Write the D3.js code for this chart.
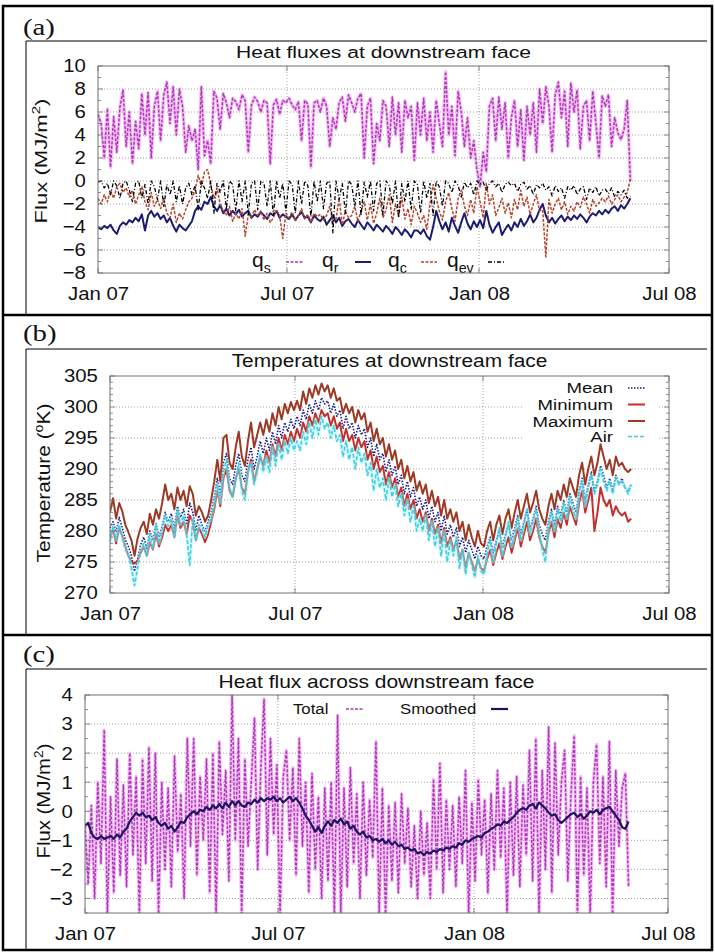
<!DOCTYPE html>
<html>
<head>
<meta charset="utf-8">
<script src="https://cdn.jsdelivr.net/npm/d3@7"></script>
<style>
  body { margin: 0; background: #fff; }
  svg { display: block; font-family: "Liberation Sans", Arial, Helvetica, sans-serif; }
  text { fill: #111; }
</style>
</head>
<body>
<script>

// Daily record sampled every 3 days, starting 1 Jan 2007
const startDate = new Date(2007, 0, 1);
const dayStep = 3;

const xTickDates = [new Date(2007, 0, 1), new Date(2007, 6, 1), new Date(2008, 0, 1), new Date(2008, 6, 1)];
const xTickLabels = ["Jan 07", "Jul 07", "Jan 08", "Jul 08"];

// (a) heat fluxes, MJ/m2
const qs = [5.8,5.0,2.0,6.3,1.2,5.6,2.5,6.4,7.9,3.0, 6.0,1.5,5.2,2.8,7.6,4.0,7.7,2.0,6.5,7.8,
  3.5,7.5,8.6,5.0,8.2,4.0,8.0,6.5,2.5,4.8, 3.5,4.5,1.0,8.2,2.2,3.5,1.5,7.8,7.2,4.5,
  7.6,6.8,5.5,7.2,6.9,6.2,7.5,7.0,2.5,6.6, 7.3,6.9,6.0,7.0,6.8,1.5,6.6,7.1,5.8,7.0,
  6.8,7.2,6.6,6.2,6.9,3.5,7.0,6.7,1.2,6.8, 7.0,6.0,7.2,6.5,3.0,5.5,4.5,6.8,7.3,5.2,
  7.5,6.8,6.0,7.2,7.6,2.0,6.5,7.2,1.5,5.0, 3.5,7.0,6.5,3.0,7.3,4.0,6.8,2.5,7.0,5.5,
  6.5,1.8,6.8,4.0,7.2,3.5,6.0,2.5,7.0,5.0, 3.0,9.5,4.0,6.5,2.2,7.8,6.0,3.0,5.5,2.0,
  3.5,1.0,-0.5,2.5,0.8,6.5,7.2,3.5,7.3,4.5, 6.8,2.0,5.5,7.0,3.0,6.2,1.8,6.5,4.0,6.8,
  2.5,8.0,5.0,8.2,6.5,2.5,7.5,8.6,5.5,7.8, 3.0,8.5,6.0,7.9,2.8,6.5,7.0,3.5,7.8,5.0,
  2.0,7.4,6.5,7.5,3.0,5.5,4.2,3.6,4.5,7.0,0.0];

const qr = [-4.0,-4.2,-3.9,-4.1,-3.8,-4.3,-4.6,-3.9,-3.6,-3.8,-3.4,
  -3.6,-3.2,-3.5,-2.9,-4.3,-3.0,-2.6,-3.1,-2.8,
  -3.3,-3.0,-3.6,-3.2,-3.9,-4.4,-3.8,-4.1,-4.3,-3.9,
  -3.5,-2.6,-2.2,-2.5,-1.8,-2.0,-1.4,-2.2,-2.6,-2.1,
  -2.8,-2.4,-3.0,-2.6,-2.9,-2.5,-3.1,-2.8,-2.6,-3.2,-2.9,
  -3.1,-2.7,-3.0,-3.3,-2.8,-3.0,-2.6,-3.2,-2.9,-3.1,
  -3.3,-2.9,-3.4,-3.0,-2.7,-3.2,-3.1,-3.6,-3.0,-3.3,
  -3.5,-3.1,-3.8,-3.4,-3.0,-3.6,-3.2,-3.9,-3.5,-3.3,
  -3.7,-4.0,-3.4,-3.8,-4.2,-3.6,-3.9,-4.3,-3.8,-4.1,
  -4.4,-3.9,-4.2,-4.6,-4.0,-4.3,-4.7,-4.2,-4.5,-4.9,-4.3,
  -4.3,-4.6,-4.2,-4.8,-5.1,-4.0,-2.6,-3.5,-4.2,-3.6,
  -4.4,-3.2,-3.9,-4.5,-3.6,-2.8,-3.7,-4.2,-3.5,-4.0,
  -3.4,-4.1,-2.6,-3.8,-4.5,-4.0,-3.6,-4.7,-4.2,-3.8,
  -4.3,-3.6,-4.0,-3.3,-3.9,-3.5,-2.9,-3.6,-3.2,-2.5,
  -2.0,-3.0,-3.6,-3.2,-3.7,-3.3,-3.0,-3.5,-3.1,-3.4,
  -3.0,-3.3,-2.9,-3.2,-3.6,-3.1,-2.8,-3.0,-2.6,-2.9,
  -2.5,-2.8,-2.4,-2.2,-2.6,-2.1,-2.4,-2.0,-1.5];

const qc = [-1.5,-2.0,-1.2,-1.8,-0.8,-1.5,-0.5,-0.2,-1.0,-0.6,-1.4,
  -0.8,-2.0,-1.2,-0.5,-1.8,-2.5,-1.0,-2.2,-1.6,
  -2.4,-1.5,-2.8,-3.2,-2.0,-3.6,-2.8,-3.3,-2.5,-1.8,
  -1.5,-0.8,0.5,-0.5,0.8,1.0,-0.3,-1.5,-0.6,-2.0,
  -2.6,-3.0,-2.2,-3.5,-2.8,-3.3,-2.4,-4.8,-2.9,-3.1,-2.5,
  -3.0,-2.6,-3.4,-2.8,-3.6,-3.2,-2.5,-3.0,-5.0,-2.8,
  -3.2,-2.7,-3.5,-3.0,-2.4,-3.3,-2.9,-3.6,-2.8,-3.1,
  -2.9,-3.4,-3.0,-2.2,-3.6,-3.3,-1.5,-3.8,-2.6,-3.2,
  -3.0,-2.2,-3.5,-2.6,-1.8,-3.4,-2.0,-3.7,-2.8,-1.5,
  -3.2,-2.5,-1.2,-3.6,-2.0,-3.0,-1.4,-3.3,-2.4,-3.8,-2.2,
  -2.8,-3.6,-3.0,-4.2,-2.0,-0.3,-1.5,-2.6,-3.4,-1.8,
  -1.0,-2.4,-3.5,-1.5,-0.8,-2.2,-3.0,-1.6,-2.8,-0.5,
  -1.8,-3.2,-0.2,-2.0,-1.2,-3.0,-2.3,-1.5,-2.8,-1.9,
  -3.2,-1.6,-2.5,-0.8,-2.2,-1.4,-2.9,-2.0,-1.2,-2.6,
  -2.5,-6.6,-1.6,-2.8,-2.0,-1.5,-2.5,-1.8,-2.9,-2.2,
  -2.6,-1.8,-2.3,-1.4,-2.0,-2.8,-1.6,-2.2,-1.9,-1.5,
  -1.8,-1.3,-2.0,-1.6,-1.2,-1.8,-1.4,-1.0,0.2];

const qev = [-0.1,0.0,-0.6,-0.2,-1.2,0.0,-0.4,-1.5,-0.2,0.0,-0.8,
  -1.8,-0.2,0.0,-1.5,-0.3,-2.0,0.0,-0.5,-1.6,
  0.0,-2.2,-0.3,-1.2,0.0,-1.8,-0.4,-2.0,-0.6,-0.2,
  -1.2,-0.4,-2.5,0.0,-0.6,-1.5,0.0,-2.8,-0.2,-1.0,
  0.0,-2.4,0.0,-0.3,-2.6,0.0,-1.8,0.0,-2.9,-0.2,0.0,
  -2.5,0.0,-0.2,-2.2,0.0,-3.0,0.0,-1.5,-0.2,-2.6,
  0.0,-0.3,-2.8,0.0,-2.0,0.0,-0.4,-3.1,0.0,-1.8,
  0.0,-2.4,-0.2,0.0,-4.5,0.0,-1.6,-0.2,-2.8,0.0,
  -0.3,-2.2,0.0,-3.0,-0.1,-1.4,0.0,-2.6,-0.2,0.0,
  -2.9,0.0,-0.4,-2.0,0.0,-3.2,-0.2,-1.8,0.0,-2.5,0.0,
  -0.3,-2.8,0.0,-1.5,-0.2,-3.0,0.0,-0.5,-2.2,0.0,
  -0.2,-1.0,0.0,-0.4,-1.4,-0.1,-0.6,-0.2,-1.2,0.0,
  -0.3,-0.1,-0.8,-0.2,0.0,-0.5,-0.2,-1.0,-0.3,-0.1,
  -0.4,-0.2,-0.9,-0.3,-0.1,-0.7,-0.4,-1.2,-0.3,-0.6,
  -0.2,-0.8,-0.5,-1.3,-0.4,-0.9,-0.6,-1.5,-0.5,-0.8,
  -0.4,-1.2,-0.7,-0.5,-1.6,-0.6,-1.0,-0.5,-1.3,-0.8,
  -0.7,-1.1,-0.6,-1.4,-0.9,-1.2,-0.8,-1.5,-1.3];

// (b) temperatures, K
const tMean = [280.5,281.5,279.8,282.2,280.5,278.6,277.5,276.0,273.5,275.5,277.8,
  279.0,277.2,280.0,278.5,281.2,279.0,280.8,283.0,281.5,
  282.8,280.5,284.0,282.2,283.5,281.0,284.5,283.0,280.0,282.5,
  281.0,280.0,281.5,283.0,285.5,288.5,286.0,291.0,292.5,288.5,
  287.5,290.5,292.5,289.0,288.0,291.5,293.5,290.0,292.0,294.5,292.5,
  295.0,293.0,296.0,294.0,297.0,295.0,297.5,296.0,298.0,296.5,
  298.5,297.0,299.5,298.0,300.5,299.0,301.0,299.5,301.5,300.5,
  301.0,299.0,300.5,298.5,299.5,296.5,298.5,296.5,297.5,295.0,
  297.0,295.5,296.5,293.5,295.0,292.0,294.0,291.5,292.5,289.5,
  291.5,289.0,290.5,287.5,289.0,286.0,288.0,285.5,287.0,284.0,285.5,
  283.5,285.0,282.0,284.0,281.5,283.0,280.0,282.5,279.5,281.0,
  279.0,280.5,277.5,279.0,276.5,278.5,277.0,275.5,277.5,276.0,
  275.5,277.5,279.0,276.5,278.5,280.0,277.5,279.5,281.0,278.5,
  280.5,282.5,279.5,281.5,283.5,280.5,282.0,284.0,281.0,279.5,
  278.5,281.5,283.5,281.0,284.0,282.5,285.0,283.0,286.0,284.5,
  283.0,286.5,288.5,285.0,287.5,289.5,286.5,288.0,290.5,289.0,
  287.0,288.5,286.5,289.0,287.5,288.5,287.0,286.5,287.5];

const tMin = [279.0,280.2,278.0,280.5,279.2,277.5,276.0,275.0,274.8,275.2,276.5,
  277.5,276.0,278.2,277.0,279.5,277.5,279.0,281.0,280.0,
  281.0,279.0,282.5,280.5,281.5,279.5,282.5,281.5,278.5,280.5,
  279.5,278.2,279.5,281.5,283.5,286.5,284.0,288.5,290.0,286.5,
  285.5,288.5,290.0,287.0,286.0,289.5,291.5,288.0,290.0,292.0,290.5,
  293.0,291.0,294.0,292.0,295.0,293.0,295.5,294.0,296.0,294.5,
  296.5,295.0,297.5,296.0,298.5,297.0,299.0,297.5,299.5,298.5,
  299.0,297.0,298.5,296.5,297.5,294.5,296.5,294.5,295.5,293.0,
  295.0,293.5,294.5,291.5,293.0,290.0,292.0,289.5,290.5,287.5,
  289.5,287.0,288.5,285.5,287.0,284.0,286.0,283.5,285.0,282.0,283.5,
  281.5,283.0,280.0,282.0,279.5,281.0,278.0,280.5,277.5,279.0,
  277.0,278.5,275.5,277.0,274.0,276.5,275.0,273.5,275.5,274.0,
  273.5,275.5,277.0,274.5,276.5,278.0,275.5,277.5,279.0,276.5,
  278.5,280.5,277.5,279.5,281.5,278.5,280.0,282.0,279.0,277.5,
  276.5,279.5,281.5,279.0,282.0,280.5,283.0,281.0,284.0,282.5,
  281.0,284.5,286.5,283.0,285.0,287.0,280.0,283.0,287.0,285.0,
  284.0,285.0,282.5,284.0,283.0,282.5,283.0,281.5,282.0];

const tMax = [283.0,285.3,282.0,284.5,283.2,281.0,279.8,278.5,276.0,278.8,280.5,
  281.5,279.5,282.8,281.0,283.5,282.0,284.5,287.5,285.0,
  286.0,283.5,287.0,285.0,286.5,284.0,287.2,286.0,282.5,284.0,
  283.0,281.5,282.5,285.0,288.0,291.5,288.0,295.0,295.5,291.0,
  290.0,293.5,296.0,292.0,290.5,294.5,297.5,293.5,295.5,297.5,295.5,
  298.0,296.0,299.0,297.0,300.0,298.0,300.5,299.0,300.8,299.5,
  301.0,299.5,302.5,300.5,303.0,301.5,303.5,302.0,303.8,302.5,
  303.5,301.5,303.0,301.0,301.5,299.0,300.5,299.0,300.0,297.5,
  299.5,298.0,299.0,296.0,297.5,294.5,296.5,294.0,295.0,292.0,
  294.0,291.5,293.0,290.0,291.5,288.5,290.5,288.0,289.5,286.5,288.0,
  286.0,287.5,284.5,286.5,284.0,285.5,282.5,285.0,282.0,283.5,
  281.5,283.0,280.0,281.5,278.5,281.0,279.0,277.5,280.0,278.0,
  277.5,280.0,281.5,278.5,281.0,282.5,279.5,282.0,283.5,280.5,
  283.0,285.0,282.0,284.0,286.0,283.0,284.5,286.5,283.5,282.0,
  281.0,284.0,286.0,283.5,286.5,285.0,287.5,285.5,288.5,287.0,
  285.5,289.0,291.0,287.5,290.0,292.0,289.0,291.0,294.0,292.0,
  290.0,291.5,289.0,292.0,290.5,291.0,290.0,289.5,290.0];

const tAir = [278.2,280.8,278.5,281.0,279.0,277.0,276.2,274.0,271.2,274.0,276.8,
  278.0,276.0,279.5,277.2,281.0,278.0,280.2,282.5,280.8,
  282.0,279.0,283.5,281.0,282.5,279.5,274.5,282.0,278.5,281.0,
  280.5,279.0,281.0,282.0,284.5,287.5,284.5,289.5,291.5,287.0,
  285.5,288.0,291.0,286.5,285.0,289.5,291.0,287.5,289.5,292.5,289.5,
  292.0,289.5,293.5,290.5,294.0,291.5,294.5,292.5,295.0,293.0,
  294.5,293.0,296.0,294.0,297.5,295.0,298.0,295.5,298.5,296.5,
  297.5,295.0,297.0,294.5,295.5,292.0,294.5,291.5,293.5,290.0,
  293.5,291.0,292.5,289.0,291.0,286.5,290.0,287.0,288.5,285.0,
  288.5,285.5,287.5,284.0,286.0,282.5,285.0,281.5,284.0,280.0,282.0,
  280.0,282.5,278.5,281.5,277.5,280.5,276.0,280.0,275.0,278.5,
  276.0,279.0,274.0,277.0,273.0,276.5,274.5,272.5,276.0,273.5,
  273.0,276.5,278.5,275.0,278.0,280.5,276.0,279.0,281.5,277.5,
  279.5,282.0,278.5,281.0,283.5,279.5,281.5,283.5,280.0,277.0,
  275.0,280.5,283.0,280.0,283.5,281.5,284.5,282.0,285.5,283.5,
  282.0,286.0,288.0,284.0,287.0,289.0,286.0,287.5,290.0,288.0,
  286.5,288.0,286.0,288.5,287.5,288.0,287.0,286.0,287.5];

// (c) net heat flux, MJ/m2
const fluxTotal = [-0.5,-2.5,0.2,-3.0,1.0,-1.8,2.8,-3.6,0.5,-2.8, 1.8,-2.2,0.9,-2.6,2.0,-1.5,1.2,-3.6,1.8,-1.8,
  2.2,-2.4,2.0,-3.6,1.0,-2.0,0.8,-2.6,1.9,-1.4, 0.6,-3.0,2.5,-1.2,2.5,-2.2,1.2,-1.0,1.8,-2.8,
  2.0,-3.6,2.4,-0.8,1.4,-2.4,4.0,-1.0,2.5,-3.6, 1.8,-1.2,1.0,3.2,-2.0,1.5,3.85,-1.5,2.5,-0.8,
  1.6,-3.6,1.2,2.1,-1.0,1.5,-2.2,2.5,-1.2,1.0, -2.8,1.3,-2.0,0.5,-3.0,0.8,-2.4,1.0,-3.6,3.3,
  -3.6,0.8,-2.6,1.5,-1.8,0.6,-3.0,1.0,-2.2,0.4, -1.6,2.4,-3.6,0.8,-3.6,0.2,-2.4,0.3,-2.8,0.6,
  -1.8,0.1,-2.6,-0.5,-3.0,0.0,-2.2,-0.4,-3.0,1.1, -2.0,1.65,-2.8,0.4,-2.0,0.2,-2.6,0.5,-1.8,1.4,
  -3.6,0.3,-2.4,1.1,-1.5,0.4,-2.8,0.6,-2.0,1.4, -1.6,0.8,-3.6,1.0,-2.2,1.2,-2.6,0.9,-1.5,2.1,
  -2.4,2.5,-3.6,1.4,-2.0,2.9,-2.8,2.35,-1.5,1.0, 2.1,-2.4,0.6,2.6,-3.6,1.2,-2.2,0.8,-3.6,1.0,
  2.3,-1.8,1.2,-2.6,2.4,-3.6,1.4,-1.2,0.8,1.3,-2.6];

const fluxSmooth = [-0.5,-0.4,-0.75,-0.9,-0.95,-0.85,-0.95,-0.9,-0.85,-0.95, -0.8,-0.9,-0.7,-0.6,-0.35,-0.2,-0.05,-0.15,-0.05,-0.2,
  -0.15,-0.3,-0.2,-0.4,-0.5,-0.4,-0.6,-0.5,-0.7,-0.55, -0.35,-0.4,-0.2,-0.1,0.0,-0.1,0.05,0.0,0.15,0.05,
  0.2,0.1,0.25,0.1,0.3,0.15,0.35,0.2,0.35,0.2, 0.15,0.3,0.25,0.4,0.3,0.45,0.35,0.45,0.4,0.5,
  0.35,0.45,0.3,0.4,0.5,0.35,0.45,0.3,0.1,-0.15, -0.3,-0.5,-0.7,-0.55,-0.75,-0.5,-0.35,-0.5,-0.3,-0.4,
  -0.25,-0.45,-0.35,-0.6,-0.5,-0.7,-0.8,-0.7,-0.9,-0.85, -1.0,-0.95,-1.05,-0.95,-1.1,-1.0,-1.15,-1.05,-1.2,-1.15,
  -1.3,-1.25,-1.35,-1.3,-1.45,-1.4,-1.5,-1.4,-1.45,-1.35, -1.4,-1.3,-1.35,-1.25,-1.3,-1.2,-1.25,-1.1,-1.15,-1.0,
  -1.05,-0.95,-0.9,-0.85,-0.9,-0.75,-0.7,-0.6,-0.55,-0.45, -0.5,-0.35,-0.4,-0.3,-0.2,-0.05,0.05,0.1,0.05,0.2,
  0.25,0.1,0.3,0.2,0.1,-0.05,-0.15,-0.1,-0.3,-0.4, -0.3,-0.2,-0.1,-0.05,-0.2,-0.1,-0.25,-0.15,0.0,-0.05,
  0.05,-0.1,0.05,0.1,0.15,0.0,-0.15,-0.3,-0.55,-0.6,-0.35];

const dateAt = i => d3.timeDay.offset(startDate, i * dayStep);

const svg = d3.select("body").append("svg")
    .attr("width", 715)
    .attr("height", 952);

// text helper: parts can carry sub / sup, sx stretches glyphs sideways
function addText(parent, x, y, parts, o) {
  const size = o.size;
  const t = parent.append("text")
      .attr("transform", `translate(${x},${y})${o.rotate ? " rotate(-90)" : ""} scale(${o.sx || 1},1)`)
      .attr("font-size", size)
      .attr("text-anchor", o.anchor || "start");
  if (o.serif) t.style("font-family", "'Liberation Serif', 'Times New Roman', serif");
  let shift = 0;
  parts.forEach(p => {
    if (typeof p === "string") p = { t: p };
    const ts = t.append("tspan").text(p.t);
    const target = p.sup ? -0.4 * size : p.sub ? 0.3 * size : 0;
    if (target !== shift) { ts.attr("dy", target - shift); shift = target; }
    if (p.sup || p.sub) ts.attr("font-size", size * 0.68);
  });
  return t;
}

// outer frame and panel separators
svg.append("rect")
    .attr("x", 3).attr("y", 6).attr("width", 709).attr("height", 944)
    .attr("fill", "none").attr("stroke", "#000").attr("stroke-width", 2.5);
[315, 635].forEach(yy => {
  svg.append("line").attr("x1", 3).attr("x2", 712).attr("y1", yy).attr("y2", yy)
      .attr("stroke", "#000").attr("stroke-width", 2.5);
});

const panels = [
  { id: "a", top: 41, bottom: 315, l: 98, r: 669, t: 66, b: 273,
    yDomain: [-8, 10], yTicks: d3.range(-8, 10.1, 2), yMinor: 1,
    tag: "(a)", tagY: 35, title: "Heat fluxes at downstream face", titleY: 57.5, titleSize: 17, titleSx: 1.24,
    yLabel: ["Flux (MJ/m", { t: "2", sup: true }, ")"], yLabelX: 47, yLabelY: 161, yLabelSize: 17, yLabelSx: 1.3 },
  { id: "b", top: 349, bottom: 635, l: 110, r: 669, t: 376, b: 593,
    yDomain: [270, 305], yTicks: d3.range(270, 305.1, 5), yMinor: 1,
    tag: "(b)", tagY: 341, title: "Temperatures at downstream face", titleY: 367, titleSize: 18.5, titleSx: 1.13,
    yLabel: ["Temperature (", { t: "o", sup: true }, "K)"], yLabelX: 50, yLabelY: 483, yLabelSize: 18.5, yLabelSx: 1.13 },
  { id: "c", top: 669, bottom: 950, l: 85, r: 668, t: 695, b: 913,
    yDomain: [-3.5, 4], yTicks: d3.range(-3, 4.1, 1), yMinor: 0.5,
    tag: "(c)", tagY: 662, title: "Heat flux across downstream face", titleY: 688, titleSize: 17.5, titleSx: 1.2,
    yLabel: ["Flux (MJ/m", { t: "2", sup: true }, ")"], yLabelX: 50, yLabelY: 801, yLabelSize: 18.5, yLabelSx: 1.1 }
];

const tickSize = 18.5, tickSx = 1.1;

function drawPanel(p, series, legend) {
  const g = svg.append("g");

  // inner frame (left rule + top rule)
  g.append("line").attr("x1", 26).attr("x2", 26).attr("y1", p.top).attr("y2", p.bottom)
      .attr("stroke", "#000").attr("stroke-width", 1);
  g.append("line").attr("x1", 26).attr("x2", 707).attr("y1", p.top).attr("y2", p.top)
      .attr("stroke", "#000").attr("stroke-width", 1);

  addText(g, 23, p.tagY, [p.tag], { size: 23, sx: 1.25, serif: true });
  addText(g, (p.l + p.r) / 2, p.titleY, [p.title], { size: p.titleSize, sx: p.titleSx, anchor: "middle" });
  addText(g, p.yLabelX, p.yLabelY, p.yLabel, { size: p.yLabelSize, sx: p.yLabelSx, anchor: "middle", rotate: true });

  const x = d3.scaleTime()
      .domain([xTickDates[0], xTickDates[3]])
      .range([p.l, p.r]);
  const y = d3.scaleLinear()
      .domain(p.yDomain)
      .range([p.b, p.t]);

  // grid
  const grid = g.append("g").attr("stroke", "#8a8a8a").attr("stroke-width", 0.8)
      .attr("stroke-dasharray", "1,2");
  p.yTicks.filter(v => y(v) > p.t + 1 && y(v) < p.b - 1).forEach(v => {
    grid.append("line").attr("x1", p.l).attr("x2", p.r).attr("y1", y(v)).attr("y2", y(v));
  });
  xTickDates.slice(1, 3).forEach(d => {
    grid.append("line").attr("x1", x(d)).attr("x2", x(d)).attr("y1", p.t).attr("y2", p.b);
  });

  if (legend.box) {
    g.append("rect").attr("x", legend.box[0]).attr("y", legend.box[1])
        .attr("width", legend.box[2]).attr("height", legend.box[3]).attr("fill", "#fff");
  }

  // clip
  svg.append("defs").append("clipPath").attr("id", "clip-" + p.id)
    .append("rect").attr("x", p.l).attr("y", p.t).attr("width", p.r - p.l).attr("height", p.b - p.t);
  const plot = g.append("g").attr("clip-path", `url(#clip-${p.id})`);

  const line = d3.line()
      .x((d, i) => x(dateAt(i)))
      .y(d => y(d));

  series.forEach(s => {
    if (s.glow) {
      plot.append("path").datum(s.values).attr("d", line)
          .attr("fill", "none").attr("stroke", s.glow).attr("stroke-width", 3.5)
          .attr("stroke-opacity", 0.45).attr("stroke-linejoin", "round");
    }
    plot.append("path").datum(s.values).attr("d", line)
        .attr("fill", "none").attr("stroke", s.color).attr("stroke-width", s.width)
        .attr("stroke-dasharray", s.dash || null).attr("stroke-linejoin", "round");
  });

  // legend
  legend.items.forEach(it => {
    addText(g, it.tx, it.ty, it.label, { size: legend.size, sx: legend.sx, anchor: legend.anchor || "start" });
    g.append("line").attr("x1", it.lx[0]).attr("x2", it.lx[1]).attr("y1", it.ly).attr("y2", it.ly)
        .attr("stroke", it.s.color).attr("stroke-width", it.s.width)
        .attr("stroke-dasharray", it.s.dash || null);
  });

  // frame
  g.append("rect").attr("x", p.l).attr("y", p.t).attr("width", p.r - p.l).attr("height", p.b - p.t)
      .attr("fill", "none").attr("stroke", "#707070").attr("stroke-width", 1);

  // inward ticks on left and right edges
  const ticks = g.append("g").attr("stroke", "#707070").attr("stroke-width", 0.8);
  d3.range(p.yDomain[0], p.yDomain[1] + 1e-6, p.yMinor).forEach(v => {
    const major = p.yTicks.some(t => Math.abs(t - v) < 1e-6);
    const len = major ? 5 : 3;
    ticks.append("line").attr("x1", p.l).attr("x2", p.l + len).attr("y1", y(v)).attr("y2", y(v));
    ticks.append("line").attr("x1", p.r).attr("x2", p.r - len).attr("y1", y(v)).attr("y2", y(v));
  });
  xTickDates.forEach(d => {
    ticks.append("line").attr("x1", x(d)).attr("x2", x(d)).attr("y1", p.b).attr("y2", p.b - 5);
    ticks.append("line").attr("x1", x(d)).attr("x2", x(d)).attr("y1", p.t).attr("y2", p.t + 5);
  });

  // axes
  const yAxis = g.append("g")
      .attr("transform", `translate(${p.l},0)`)
      .call(d3.axisLeft(y).tickValues(p.yTicks).tickSize(0).tickPadding(11).tickFormat(d3.format("d")))
      .attr("font-size", tickSize)
      .attr("font-family", null);
  yAxis.select(".domain").remove();
  yAxis.selectAll("text").attr("transform", `scale(${tickSx},1)`).attr("fill", "#111");

  const xAxis = g.append("g")
      .attr("transform", `translate(0,${p.b})`)
      .call(d3.axisBottom(x).tickValues(xTickDates).tickSize(0).tickPadding(14)
            .tickFormat((d, i) => xTickLabels[i]))
      .attr("font-size", tickSize)
      .attr("font-family", null);
  xAxis.select(".domain").remove();
  xAxis.selectAll("text").attr("transform", `scale(${tickSx},1)`).attr("fill", "#111");
}

// styles
const sQs = { values: qs, color: "#a83cb0", glow: "#ee70f0", width: 1.5, dash: "3,1.5" };
const sQr = { values: qr, color: "#1c1c70", width: 2 };
const sQc = { values: qc, color: "#b4462e", width: 1.5, dash: "3,1.5" };
const sQev = { values: qev, color: "#000", width: 1.3, dash: "4,2,1,2" };

const sMean = { values: tMean, color: "#1a1a80", width: 1.6, dash: "1.5,1.5" };
const sMin = { values: tMin, color: "#c0302c", width: 2 };
const sMax = { values: tMax, color: "#9c3a26", width: 2 };
const sAir = { values: tAir, color: "#3ccfe0", glow: "#a8f0f8", width: 1.6, dash: "4,2" };

const sTotal = { values: fluxTotal, color: "#a83cb0", glow: "#ee70f0", width: 1.5, dash: "3,1.5" };
const sSmooth = { values: fluxSmooth, color: "#1c1460", width: 2.2 };

drawPanel(panels[0], [sQs, sQr, sQc, sQev], {
  size: 21, sx: 1.0,
  items: [
    { s: sQs, label: ["q", { t: "s", sub: true }], tx: 252, ty: 267, lx: [286, 303], ly: 262 },
    { s: sQr, label: ["q", { t: "r", sub: true }], tx: 322, ty: 267, lx: [355, 371], ly: 262 },
    { s: sQc, label: ["q", { t: "c", sub: true }], tx: 388, ty: 267, lx: [421, 437], ly: 262 },
    { s: sQev, label: ["q", { t: "ev", sub: true }], tx: 447, ty: 267, lx: [488, 505], ly: 262 }
  ]
});

drawPanel(panels[1], [sMean, sMin, sMax, sAir], {
  size: 15.5, sx: 1.2, anchor: "end", box: [523, 378, 135, 69],
  items: [
    { s: sMean, label: ["Mean"], tx: 613, ty: 393, lx: [628, 645], ly: 388 },
    { s: sMin, label: ["Minimum"], tx: 613, ty: 410, lx: [628, 645], ly: 404.5 },
    { s: sMax, label: ["Maximum"], tx: 613, ty: 426.5, lx: [628, 645], ly: 421 },
    { s: sAir, label: ["Air"], tx: 613, ty: 442, lx: [628, 645], ly: 436.5 }
  ]
});

drawPanel(panels[2], [sTotal, sSmooth], {
  size: 15.5, sx: 1.08,
  items: [
    { s: sTotal, label: ["Total"], tx: 293, ty: 714, lx: [346, 363], ly: 709 },
    { s: sSmooth, label: ["Smoothed"], tx: 400, ty: 714, lx: [491, 508], ly: 709 }
  ]
});

</script>
</body>
</html>
